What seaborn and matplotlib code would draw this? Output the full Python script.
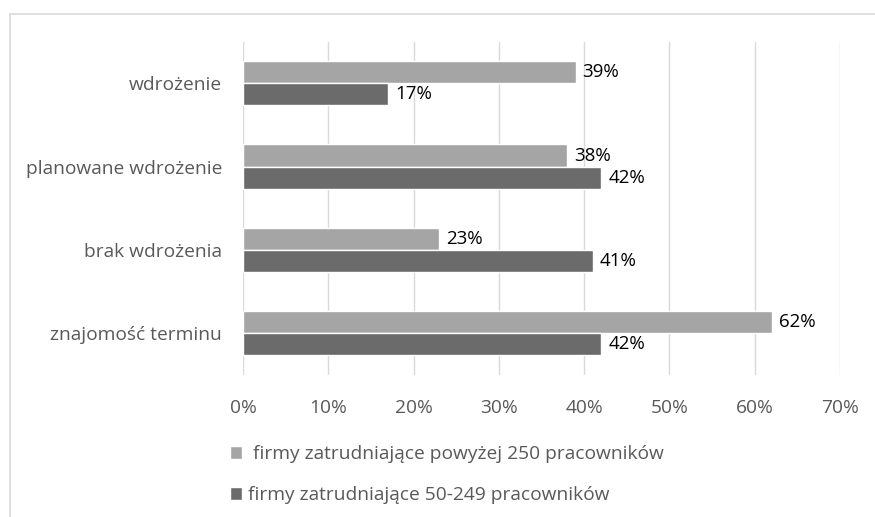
import matplotlib
matplotlib.use("Agg")
import matplotlib.pyplot as plt
from matplotlib.lines import Line2D
import pandas as pd
import seaborn as sns

categories = ["wdrożenie", "planowane wdrożenie", "brak wdrożenia", "znajomość terminu"]
series_names = [
    " firmy zatrudniające powyżej 250 pracowników",
    "firmy zatrudniające 50-249 pracowników",
]
large_firms = [39, 38, 23, 62]
medium_firms = [17, 42, 41, 42]
x_ticks = [0, 10, 20, 30, 40, 50, 60, 70]

df = pd.DataFrame({
    "category": categories * 2,
    "value": large_firms + medium_firms,
    "series": [series_names[0]] * 4 + [series_names[1]] * 4,
})

sns.set_theme(style="white")
plt.rcParams["font.family"] = ["Open Sans", "DejaVu Sans"]

fig = plt.figure(figsize=(8.75, 5.17), dpi=100)
ax = fig.add_axes([243 / 875, 1 - 375 / 517, (840 - 243) / 875, (375 - 41.5) / 517])

sns.barplot(
    data=df, y="category", x="value", hue="series", orient="h",
    order=categories, hue_order=series_names,
    palette=["#A5A5A5", "#6B6B6B"], width=0.53, saturation=1,
    ax=ax, legend=True,
)

for cont in ax.containers:
    ax.bar_label(cont, labels=[f"{v:.0f}%" for v in cont.datavalues],
                 padding=5, fontsize=13.5, color="black")

ax.set_xlim(0, 70)
ax.set_xticks(x_ticks)
ax.set_xticklabels([f"{t}%" for t in x_ticks])
ax.grid(axis="x", color="#D9D9D9", linewidth=1)
ax.set_axisbelow(True)
for s in ax.spines.values():
    s.set_visible(False)
ax.tick_params(axis="both", length=0, labelsize=13.8, labelcolor="#595959")
ax.tick_params(axis="x", pad=17)
ax.tick_params(axis="y", pad=15)
ax.set_xlabel("")
ax.set_ylabel("")

handles, labels = ax.get_legend_handles_labels()
ax.get_legend().remove()
fig.legend(handles, labels, loc="upper left", bbox_to_anchor=(213 / 875, 1 - 428 / 517),
           frameon=False, fontsize=13.8, labelcolor="#595959",
           handlelength=0.6, handleheight=0.6, handletextpad=0.3, labelspacing=1.2)

# outer frame
fig.add_artist(Line2D([10 / 875, 1], [1 - 14 / 517, 1 - 14 / 517], color="#D9D9D9", lw=1.2))
fig.add_artist(Line2D([10 / 875, 10 / 875], [0, 1 - 14 / 517], color="#D9D9D9", lw=1.2))

fig.savefig("out.png", dpi=100)
